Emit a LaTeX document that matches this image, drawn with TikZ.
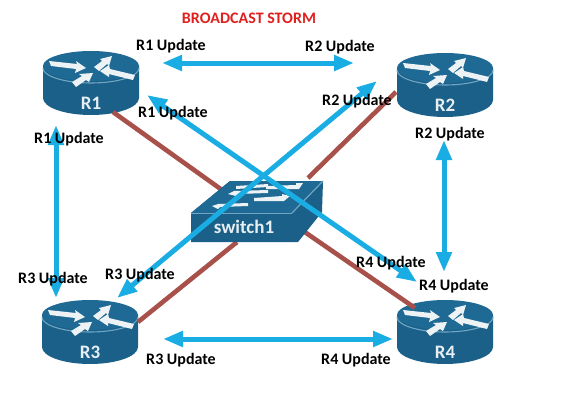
\documentclass[tikz,border=0pt]{standalone}
\usepackage{fontspec}
\setmainfont{Carlito}
\usetikzlibrary{arrows.meta}
\definecolor{netblue}{HTML}{1B6088}
\definecolor{nettop}{HTML}{1F6A94}
\definecolor{netrim}{HTML}{6FA6C4}
\definecolor{flow}{HTML}{1AADE4}
\definecolor{wire}{HTML}{A8504A}
\definecolor{titlered}{HTML}{E0201F}
\tikzset{
  x=1pt,y=-1pt,
  flowline/.style={draw=flow,line width=5pt,{Triangle[length=20pt,width=15pt]}-{Triangle[length=20pt,width=15pt]}},
  wireline/.style={draw=wire,line width=4.6pt},
  updatelabel/.style={font=\bfseries\fontsize{16}{18}\selectfont,text=black,inner sep=0pt},
  devlabel/.style={font=\bfseries\fontsize{19}{21}\selectfont,text=white!90!netblue,inner sep=0pt},
  whitearrow/.style={fill=white!92!netblue,draw=none},
  router/.pic={
    \fill[netblue] (-48,-17) -- (-48,15) arc[x radius=48,y radius=17,start angle=180,end angle=0] -- (48,-17) -- cycle;
    \fill[nettop] (0,-17) ellipse[x radius=48,y radius=15];
    \draw[netrim,line width=1.1pt] (-48,-15) arc[x radius=48,y radius=15,start angle=180,end angle=0];
    \fill[whitearrow] (-42,-22) -- (-14,-19) -- (-15,-22) -- (-5,-15) -- (-16,-10) -- (-15,-14) -- (-40,-17) -- cycle;
    \fill[whitearrow] (3,-16) -- (11,-22) -- (9,-24) -- (21,-27) -- (18,-17) -- (16,-19) -- (8,-12) -- cycle;
    \fill[whitearrow] (-19,-1) -- (-9,-7) -- (-12,-9) -- (2,-10) -- (-2,-1) -- (-5,-3) -- (-15,4) -- cycle;
    \fill[whitearrow] (44,-8) -- (19,-14) -- (18,-18) -- (9,-12) -- (18,-6) -- (18,-9) -- (42,-3) -- cycle;
    \node[devlabel] (-label) at (0,20) {\tikzpictext};
  },
}
\begin{document}
\begin{tikzpicture}
\useasboundingbox (0,0) rectangle (579,415);
\fill[white] (0,0) rectangle (579,415);
% routers
\pic[pic text=R1] (r1) at (91,83) {router};
\pic[pic text=R2] (r2) at (445,85) {router};
\pic[pic text=R3] (r3) at (90,332) {router};
\pic[pic text=R4] (r4) at (445,332) {router};
% connector ends
\coordinate (w1) at (113,112); \coordinate (sw1) at (222,190);
\coordinate (w2) at (396,92); \coordinate (sw2) at (308,178);
\coordinate (w3) at (138,322); \coordinate (sw3) at (237,242);
\coordinate (w4) at (415,308); \coordinate (sw4) at (296,226);
\coordinate (f12a) at (162,63); \coordinate (f12b) at (354,63);
\coordinate (f13a) at (56,125); \coordinate (f13b) at (56,298);
\coordinate (f14a) at (147,95); \coordinate (f14b) at (417,282);
\coordinate (f23a) at (377,81); \coordinate (f23b) at (117,298);
\coordinate (f24a) at (444,140); \coordinate (f24b) at (444,272);
\coordinate (f34a) at (163,339); \coordinate (f34b) at (393,339);
% wires
\draw[wireline] (w1) -- (sw1);
\draw[wireline] (w2) -- (sw2);
\draw[wireline] (w3) -- (sw3);
\draw[wireline] (w4) -- (sw4);
% switch
\fill[netblue] (191,213) -- (230,181) -- (323,181) -- (322,212) -- (298,242) -- (191,242) -- cycle;
\fill[nettop] (191,213) -- (230,181) -- (323,181) -- (292,213) -- cycle;
\draw[netrim,line width=1.2pt] (292,213) -- (323,181);
\draw[netrim,line width=.7pt] (191,213) -- (292,213);
\fill[whitearrow] (236,186) -- (268,184) -- (268,187) -- (236,189) -- cycle;
\fill[whitearrow] (266,186) -- (296,185) -- (296,183) -- (303,183) -- (299,189) -- (266,189) -- cycle;
\fill[whitearrow] (234,191) -- (268,190) -- (268,193) -- (238,194) -- (236,196) -- (228,194) -- cycle;
\fill[whitearrow] (254,198) -- (282,196) -- (282,194) -- (290,196) -- (284,201) -- (254,201) -- cycle;
\fill[whitearrow] (218,204) -- (248,203) -- (248,206) -- (220,207) -- (218,209) -- (212,206) -- cycle;
\node[devlabel] (sw) at (244,227) {switch1};
% flows
\draw[flowline] (f12a) -- (f12b);
\draw[flowline] (f13a) -- (f13b);
\draw[flowline] (f14a) -- (f14b);
\draw[flowline] (f23a) -- (f23b);
\draw[flowline] (f24a) -- (f24b);
\draw[flowline] (f34a) -- (f34b);
% labels
\node[inner sep=0pt,font=\bfseries\fontsize{16}{18}\selectfont,text=titlered] (title) at (249,18) {BROADCAST STORM};
\node[updatelabel] (l1) at (171,46) {R1 Update};
\node[updatelabel] (l2) at (340,47) {R2 Update};
\node[updatelabel] (l3) at (173,113) {R1 Update};
\node[updatelabel] (l4) at (357,101) {R2 Update};
\node[updatelabel] (l5) at (450,134) {R2 Update};
\node[updatelabel] (l6) at (69,139) {R1 Update};
\node[updatelabel] (l7) at (53,279) {R3 Update};
\node[updatelabel] (l8) at (140,275) {R3 Update};
\node[updatelabel] (l9) at (391,263) {R4 Update};
\node[updatelabel] (l10) at (454,286) {R4 Update};
\node[updatelabel] (l11) at (181,360) {R3 Update};
\node[updatelabel] (l12) at (356,360) {R4 Update};
\end{tikzpicture}
\end{document}
